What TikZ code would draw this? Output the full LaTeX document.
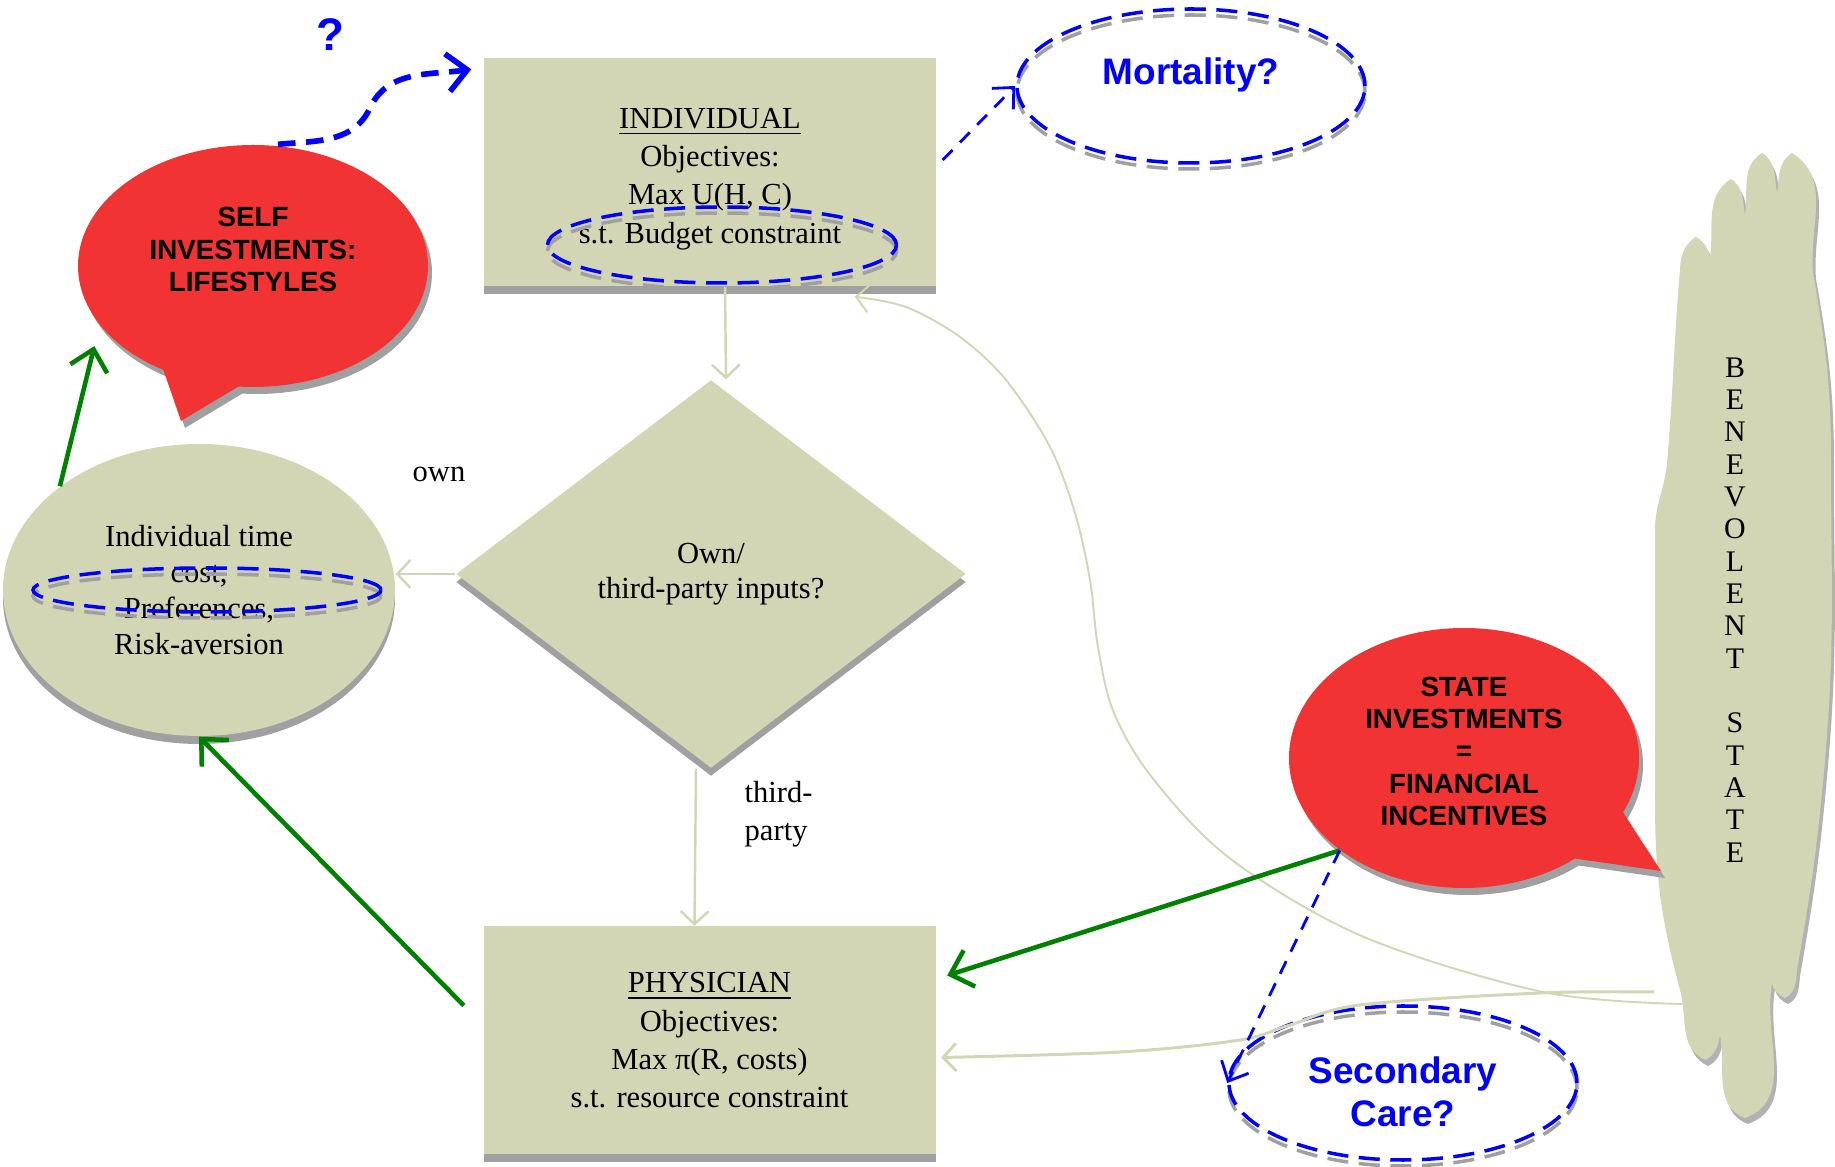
\documentclass[tikz,border=0pt]{standalone}
\usepackage{fontspec}
\setmainfont{Liberation Serif}
\setsansfont{Liberation Sans}
\usepackage{tikz}
\usetikzlibrary{shapes.geometric, shapes.callouts, shadows, arrows.meta}
\definecolor{sage}{RGB}{210,214,180}
\definecolor{bubblered}{RGB}{242,51,51}
\definecolor{shadowgray}{RGB}{160,160,160}
\definecolor{darkgreen}{RGB}{0,128,0}
\newcommand{\serifsize}{\fontsize{8.7}{10.9}\selectfont}
\newcommand{\bubblesize}{\fontsize{7.9}{9.2}\selectfont\sffamily\bfseries}
\newcommand{\asksize}{\fontsize{10.5}{12.3}\selectfont\sffamily\bfseries}

\tikzset{
    agent/.style={rectangle, fill=sage, minimum width=4.52cm, minimum height=2.28cm,
        align=center, font=\serifsize, general shadow={fill=shadowgray, shadow yshift=-.08cm}},
    query/.style={diamond, fill=sage, inner sep=0pt, minimum width=5.1cm, minimum height=3.88cm,
        align=center, font=\fontsize{8.7}{10}\selectfont, general shadow={fill=shadowgray, shadow yshift=-.08cm}},
    trait/.style={ellipse, fill=sage, inner sep=0pt, minimum width=3.92cm, minimum height=2.92cm,
        align=center, font=\fontsize{8.7}{10.2}\selectfont, general shadow={fill=shadowgray, shadow yshift=-.08cm}},
    bubble/.style={ellipse callout, fill=bubblered, inner sep=0pt, minimum width=3.5cm, minimum height=2.42cm,
        callout pointer arc=26, align=center, font=\bubblesize,
        general shadow={fill=shadowgray, shadow xshift=.04cm, shadow yshift=-.07cm}},
    outcome/.style={ellipse, draw=blue, line width=1pt, dash pattern=on 6pt off 3pt, inner sep=0pt,
        minimum width=3.48cm, minimum height=1.54cm, align=center, text=blue, font=\asksize,
        general shadow={draw=shadowgray, line width=1pt, dash pattern=on 6pt off 3pt, shadow yshift=-.06cm}},
    ring/.style={ellipse, draw=blue, line width=1pt, dash pattern=on 6pt off 3pt, inner sep=0pt,
        general shadow={draw=shadowgray, line width=1pt, dash pattern=on 6pt off 3pt, shadow yshift=-.06cm}},
    note/.style={font=\serifsize, inner sep=0pt},
    flow/.style={draw=sage, line width=.7pt, >={Straight Barb[length=1.3mm,width=2.8mm]}},
    boost/.style={draw=darkgreen, line width=1.3pt, >={Straight Barb[length=2mm,width=3.8mm]}},
    hint/.style={draw=blue, line width=.8pt, dash pattern=on 4pt off 3pt, >={Straight Barb[length=1.6mm,width=3mm]}},
    guess/.style={draw=blue, line width=1.6pt, dash pattern=on 5pt off 3pt, >={Straight Barb[length=2mm,width=3.8mm]}}
}

\begin{document}
\begin{tikzpicture}
    \useasboundingbox (0,0) rectangle (18.35,-11.67);
    \draw[fill=sage, draw=none, general shadow={fill=black, opacity=.3, shadow xshift=.03cm, shadow yshift=-.06cm}]
    (16.80,-2.70) to[out=88,in=212] (16.96,-2.37) to[out=-32,in=100] (17.10,-2.58)
    to[out=82,in=212] (17.31,-1.79) to[out=-32,in=100] (17.45,-2.15)
    to[out=82,in=212] (17.62,-1.53) to[out=-32,in=100] (17.77,-1.93)
    to[out=82,in=212] (17.92,-1.53) to[out=-32,in=95] (18.13,-2.73)
    to[out=-80,in=90] (18.31,-4.6) to[out=-90,in=85] (18.25,-7.6)
    to[out=-95,in=80] (17.97,-9.70)
    to[out=-95,in=25] (17.85,-9.98) to[out=155,in=-80] (17.72,-9.83)
    to[out=-100,in=20] (17.45,-11.18) to[out=160,in=-80] (17.20,-10.35)
    to[out=-100,in=25] (17.05,-10.60) to[out=155,in=-75] (16.80,-9.90)
    to[out=105,in=-90] (16.55,-8.0) -- (16.55,-5.3)
    to[out=90,in=-95] (16.67,-4.63) to[out=85,in=-95] (16.80,-2.70) -- cycle;
    \node[font=\fontsize{8.5}{9.2}\selectfont, align=center] (benevolent) at (17.35,-6.10)
        {B\\E\\N\\E\\V\\O\\L\\E\\N\\T\\[9.2pt]S\\T\\A\\T\\E};

    \node[agent] (indiv) at (7.10,-1.72) {\rule{0pt}{3.4mm}\underline{INDIVIDUAL}\\Objectives:\\Max U(H, C)\\s.t. Budget constraint};
    \node[agent] (phys) at (7.095,-10.405) {\underline{PHYSICIAN}\\Objectives:\\Max π(R, costs)\\s.t. resource constraint};
    \node[query] (inputs) at (7.11,-5.74) {Own/\\third-party inputs?};
    \node[trait] (costs) at (1.99,-5.90) {Individual time\\cost,\\Preferences,\\Risk-aversion};
    \node[bubble, callout absolute pointer={(1.81,-4.21)}] (selfbub) at (2.53,-2.66)
        {SELF\\INVESTMENTS:\\LIFESTYLES\rule[-3.3mm]{0pt}{0pt}};
    \node[bubble, minimum height=2.6cm, callout absolute pointer={(16.61,-8.71)}] (statebub) at (14.64,-7.58)
        {STATE\\INVESTMENTS\\=\\FINANCIAL\\INCENTIVES\rule[-1.4mm]{0pt}{0pt}};
    \node[outcome, text depth=.3cm] (mort) at (11.91,-0.86) {Mortality?};
    \node[outcome] (second) at (14.03,-10.83) {\rule{0pt}{4.5mm}Secondary\\Care?};
    \node[ring, minimum width=3.49cm, minimum height=.76cm] (budget) at (7.22,-2.45) {};
    \node[ring, minimum width=3.48cm, minimum height=.44cm] (prefs) at (2.07,-5.90) {};
    \node[text=blue, font=\fontsize{13}{13}\selectfont\sffamily\bfseries] (qmark) at (3.30,-0.35) {?};
    \node[note] (ownlbl) at (4.39,-4.74) {own};
    \node[note, anchor=west, align=left] (thirdlbl) at (7.44,-8.14) {third-\\party};

    \coordinate (stateA) at (16.82,-10.04);
    \coordinate (stateB) at (16.54,-9.92);
    \coordinate (indivfoot) at ([xshift=-.82cm,yshift=-.1cm]indiv.south east);
    \coordinate (physside) at ([xshift=.5mm,yshift=-1.7mm]phys.east);
    \coordinate (bend) at (3.70,-1.08);

    \draw[flow, ->] ([xshift=1.5mm]indiv.south) -- ([xshift=1.5mm]inputs.north);
    \draw[flow, ->] (inputs.west) -- (inputs.west -| costs.east);
    \draw[flow, ->] ([xshift=-1.5mm]inputs.south) -- ([xshift=-1.5mm]phys.north);
    \draw[flow, line width=.55pt, ->] plot[smooth, tension=.55] coordinates {(stateA) (15.43,-9.92) (13.64,-9.37)
        (12.32,-8.60) (11.54,-7.80) (11.14,-7.13) (10.98,-6.47) (10.90,-5.80) (10.75,-5.13) (10.50,-4.47)
        (10.06,-3.80) (9.60,-3.37) (9.06,-3.07) (indivfoot)};
    \draw[flow, line width=.85pt, ->] plot[smooth, tension=.55] coordinates {(stateB) (15.4,-9.93) (13.6,-10.05)
        (12.9,-10.25) (12.4,-10.4) (11.2,-10.52) (physside)};

    \draw[boost, ->] (costs.north west) -- ([xshift=-1.5mm,yshift=-1mm]selfbub.206);
    \draw[boost, ->] ([xshift=-1.9mm,yshift=3.5mm]phys.west) -- (costs.south);
    \draw[boost, ->] (statebub.south west) -- ([xshift=1.1mm,yshift=6.5mm]phys.east);

    \draw[hint, ->] ([xshift=.6mm,yshift=1.2mm]indiv.east) -- (mort.west);
    \draw[hint, ->] (statebub.south west) -- (second.west);
    \draw[guess, ->] ([xshift=2.5mm]selfbub.north) to[out=5,in=-115] (bend)
        to[out=65,in=188] ([xshift=-1.2mm,yshift=-1.2mm]indiv.north west);
\end{tikzpicture}
\end{document}
